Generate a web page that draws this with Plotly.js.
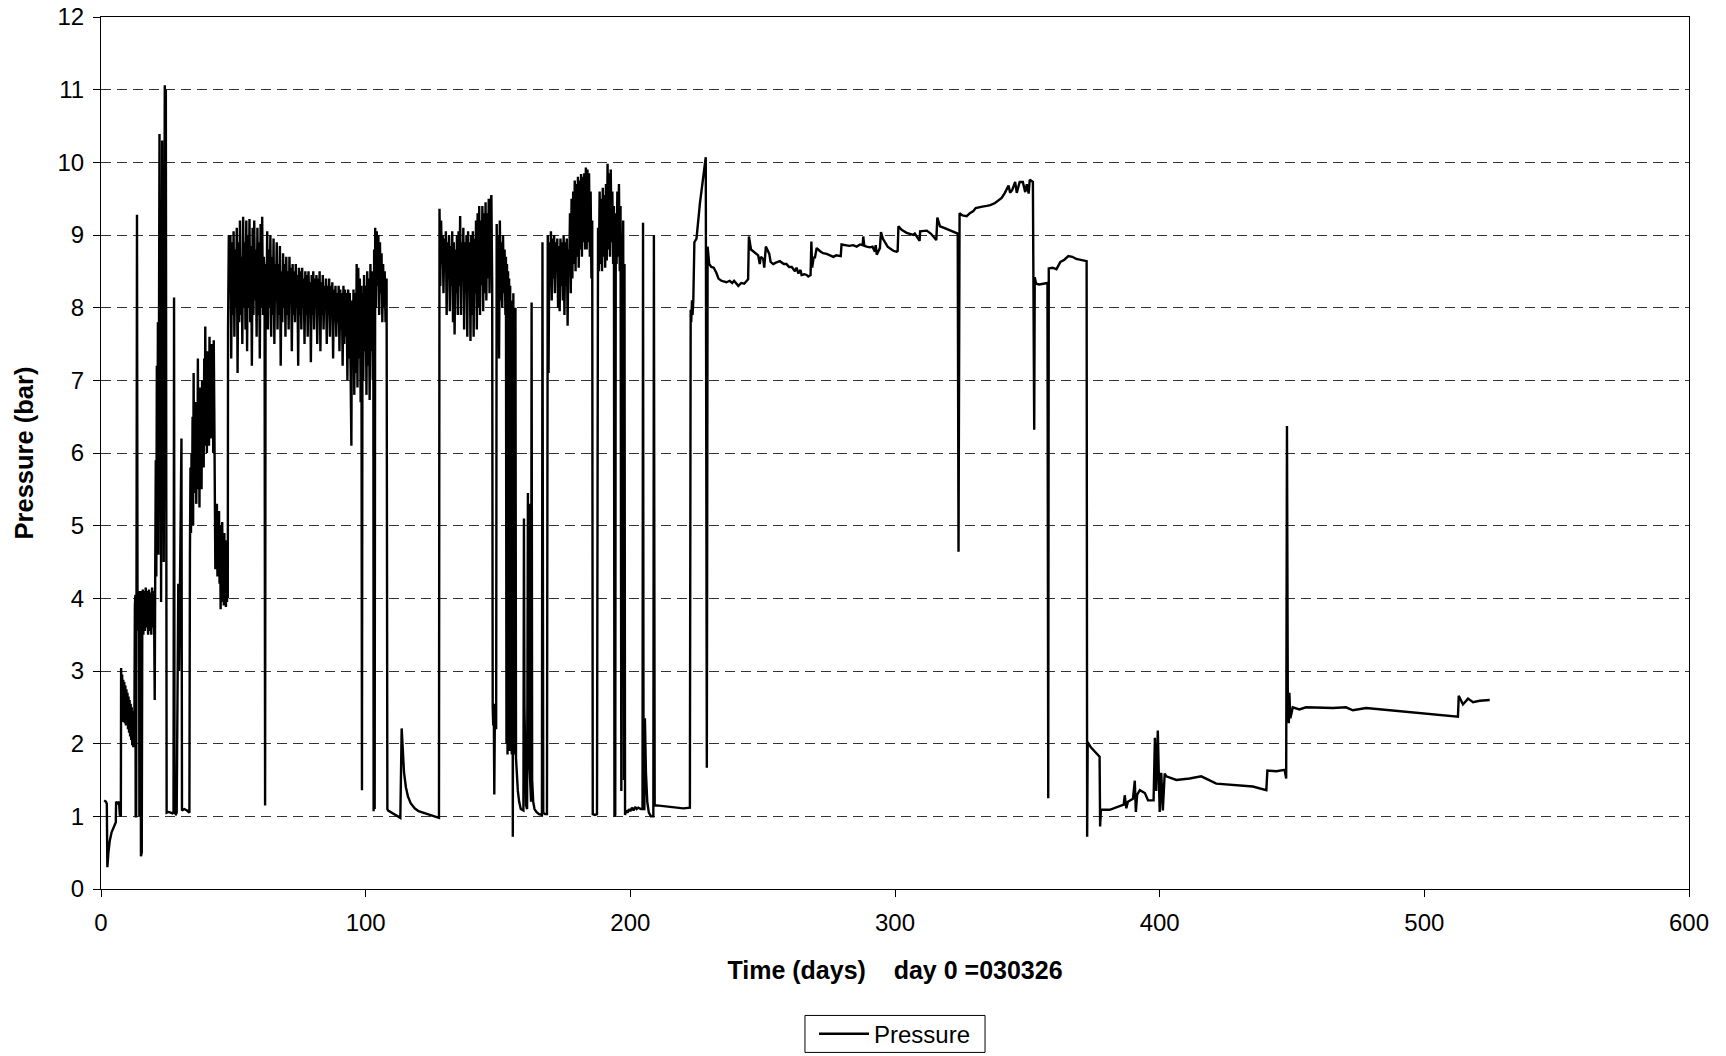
<!DOCTYPE html>
<html>
<head>
<meta charset="utf-8">
<script src="https://cdn.plot.ly/plotly-3.0.1.min.js"></script>
<style>html,body{margin:0;padding:0;background:#fff;}#chart{width:1726px;height:1056px;}</style>
</head>
<body>
<div id="chart"></div>
<script>
// [day, pressure (bar)], day 0 = 030326
const startupPhase = [
[1.2,1.22],[1.9,1.2],[2.2,1.17],[2.4,0.3],[2.8,0.5],[3.3,0.66],[4.0,0.78],[4.8,0.86],[5.6,0.92],[5.7,1.2],[6.2,1.18],[6.8,1.2],[7.1,1.02],[7.5,1.0],
[7.6,3.04],[7.8,2.5],[8.0,2.95],[8.2,2.3],[8.4,2.88],[8.6,2.35],[8.8,2.85],[9.0,2.28],[9.2,2.8],[9.4,2.25],[9.6,2.75],[9.8,2.3],[10.0,2.7],[10.2,2.2],[10.4,2.65],[10.6,2.15],[10.8,2.6],[11.0,2.1],[11.2,2.55],[11.4,2.05],[11.6,2.5],[11.8,1.98],[12.0,2.45],[12.2,1.95],[12.4,2.35],[12.6,2.2],[12.8,3.9],[13.0,4.05],[13.1,1.0],[13.3,1.0],[13.6,9.28],[13.8,3.9],[14.0,4.1],[14.2,3.55],[14.4,4.05],[14.5,1.0],[14.7,3.6],[14.9,4.1],[15.1,0.45],[15.4,0.5],[15.6,3.7],[15.8,4.12],[16.0,3.5],[16.3,4.1],[16.6,3.55],[16.9,4.15],[17.2,3.6],[17.5,4.1],[17.8,3.5],[18.1,4.12],[18.4,3.55],[18.7,4.08],[19.0,3.5],[19.3,4.15],[19.6,3.6],[19.9,4.1],[20.1,3.55],[20.3,2.6],
[20.5,4.5],[20.7,5.9],[20.9,4.3],[21.1,7.2],[21.3,5.0],[21.5,7.8],[21.7,4.6],[21.9,6.5],[22.1,10.39],[22.3,5.5],[22.5,9.0],[22.7,3.95],[22.9,8.0],[23.1,10.3],[23.3,6.2],[23.5,7.5],[23.7,4.5],[23.9,8.5],[24.1,11.06],[24.3,9.6],[24.5,11.0],[24.8,1.05],[25.5,1.06],[26.3,1.05],[27.0,1.04],[27.4,1.05],[27.6,8.14],[27.8,1.05],[28.3,1.03],[28.6,1.05],
[28.9,3.5],[29.2,4.2],[29.5,3.0],[29.8,4.5],[30.1,5.2],[30.4,6.2],[30.6,1.08],[31.5,1.1],[32.5,1.08],[33.4,1.05],
[33.6,4.6],[33.8,5.8],[34.0,4.9],[34.2,6.0],[34.4,5.2],[34.6,6.5],[34.8,5.0],[35.0,7.1],[35.2,5.45],[35.4,6.2],[35.6,5.6],[35.8,6.7],[36.0,5.3],[36.2,6.4],[36.4,5.5],[36.6,7.3],[36.8,5.7],[37.0,6.6],[37.2,5.25],[37.4,6.9],[37.6,5.9],[37.8,6.7],[38.0,5.5],[38.2,7.0],[38.4,6.0],[38.6,6.5],[38.8,5.8],[39.0,7.3],[39.2,6.1],[39.4,7.74],[39.6,6.2],[39.8,7.2],[40.0,6.0],[40.2,7.4],[40.4,6.3],[40.6,7.0],[40.8,6.1],[41.0,7.6],[41.2,6.4],[41.4,7.2],[41.6,6.2],[41.8,7.5],[42.0,6.5],[42.2,7.3],[42.4,6.0],[42.6,7.55],[42.8,6.6],
[43.0,5.3],[43.2,4.4],[43.4,5.2],[43.6,4.6],[43.8,5.3],[44.0,4.3],[44.2,5.1],[44.4,4.5],[44.6,5.2],[44.8,4.2],[45.0,5.0],[45.2,3.85],[45.4,4.9],[45.6,4.1],[45.8,5.05],[46.0,3.95],[46.2,4.85],[46.4,3.9],[46.6,4.9],[46.8,4.0],[47.0,4.8],[47.2,3.88],[47.4,4.7],[47.6,3.95],[47.8,4.6],[47.9,4.0],[48.0,7.7]
];
const plateauOne = [
[48.3,9.0],[48.6,8.2],[48.9,9.0],[49.2,7.3],[49.5,8.9],[49.8,7.9],[50.1,9.05],[50.4,7.6],[50.7,8.8],[51.0,8.0],[51.3,9.1],[51.6,7.1],[51.9,8.9],[52.2,7.8],[52.5,9.2],[52.8,7.9],[53.1,8.7],[53.4,7.5],[53.7,9.25],[54.0,8.0],[54.3,8.9],[54.6,7.7],[54.9,9.2],[55.2,7.4],[55.5,9.0],[55.8,8.0],[56.1,9.22],[56.4,7.8],[56.7,8.85],[57.0,7.2],[57.3,9.1],[57.6,7.9],[57.9,9.2],[58.2,8.1],[58.5,8.8],[58.8,7.6],[59.1,9.1],[59.4,7.9],[59.7,8.9],[60.0,7.3],[60.3,9.15],[60.6,8.0],[60.9,9.25],[61.2,7.9],[61.5,8.7],[61.8,8.4],[62.0,1.15],[62.2,8.6],
[62.5,7.9],[62.8,9.05],[63.1,7.7],[63.4,8.8],[63.7,8.0],[64.0,9.0],[64.3,7.6],[64.6,8.7],[64.9,7.9],[65.2,8.95],[65.5,7.5],[65.8,8.6],[66.1,8.1],[66.4,8.9],[66.7,7.7],[67.0,8.6],[67.3,7.9],[67.6,8.85],[67.9,7.2],[68.2,8.5],[68.5,7.8],[68.8,8.75],[69.1,8.0],[69.4,8.6],[69.7,7.6],[70.0,8.7],[70.3,7.9],[70.6,8.5],[70.9,7.7],[71.2,8.7],[71.5,8.1],[71.8,8.55],[72.1,7.4],[72.4,8.6],[72.7,7.9],[73.0,8.5],[73.3,7.8],[73.6,8.6],[73.9,8.0],[74.2,8.45],[74.5,7.2],[74.8,8.55],[75.1,7.9],[75.4,8.5],[75.7,7.7],[76.0,8.55],[76.3,8.0],[76.6,8.4],[76.9,7.5],[77.2,8.5],[77.5,7.9],[77.8,8.45],[78.1,7.6],[78.4,8.5],[78.7,8.0],[79.0,8.35],[79.3,7.25],[79.6,8.45],[79.9,7.9],[80.2,8.5],[80.5,7.7],[80.8,8.4],[81.1,8.0],[81.4,8.45],[81.7,7.5],[82.0,8.4],[82.3,7.9],[82.6,8.5],[82.9,7.4],[83.2,8.35],[83.5,7.9],[83.8,8.45],[84.1,7.7],[84.4,8.3],[84.7,8.0],[85.0,8.4],[85.3,7.5],[85.6,8.3],[85.9,7.9],[86.2,8.4],[86.5,7.6],[86.8,8.3],[87.1,7.9],[87.4,8.35],[87.7,7.3],[88.0,8.25],[88.3,7.8],[88.6,8.3],[88.9,7.6],[89.2,8.2],[89.5,7.8],[89.8,8.3],[90.1,7.4],[90.4,8.25],[90.7,7.7],[91.0,8.2],[91.3,7.2],[91.6,8.3],[91.9,7.5],[92.2,8.25],[92.5,7.6],[92.8,8.2],[93.1,7.0],[93.4,8.25],[93.7,7.3],[94.0,8.2],[94.3,6.9],[94.6,6.1],[94.8,8.1],[95.1,7.2],[95.4,8.25],[95.7,6.8],[96.0,8.2],[96.3,7.1],[96.6,8.6],[96.9,6.9],[97.2,8.55],[97.5,7.3],[97.8,8.4],[98.1,6.7],[98.4,8.3],[98.6,1.36],[98.8,8.2],[99.1,7.0],[99.4,8.45],[99.7,7.4],[100.0,8.3],[100.3,6.8],[100.6,8.5],[100.9,7.2],[101.2,8.4],[101.5,6.73],[101.8,8.6],[102.1,7.4],[102.4,8.5],[102.7,7.0],[102.9,8.3],[103.0,1.07],[103.2,8.8],[103.4,1.1],[103.6,9.1],[103.9,8.0],[104.2,9.05],[104.5,8.3],[104.8,9.0],[105.1,7.9],[105.4,8.9],[105.7,8.2],[106.0,8.75],[106.3,7.8],[106.6,8.6],[106.9,8.0],[107.2,8.5],[107.5,7.8],[107.9,8.4],[108.2,1.1]
];
const recoveryOne = [
[108.5,1.08],[110.0,1.05],[112.0,1.0],[113.1,0.98],[113.6,2.21],[114.0,1.9],[114.5,1.6],[115.2,1.4],[116.0,1.27],[117.0,1.18],[118.5,1.11],[120.0,1.07],[122.0,1.05],[124.0,1.03],[126.0,1.0],[127.7,0.98]
];
const plateauTwo = [
[127.9,9.36],[128.2,8.3],[128.5,9.2],[128.8,8.6],[129.1,9.0],[129.4,8.2],[129.7,8.95],[130.0,8.5],[130.3,9.05],[130.6,7.9],[130.9,8.9],[131.2,8.4],[131.5,9.0],[131.8,7.95],[132.1,8.85],[132.4,8.3],[132.7,9.05],[133.0,7.8],[133.3,8.9],[133.6,7.63],[133.9,8.8],[134.2,8.2],[134.5,9.0],[134.8,7.9],[135.1,9.05],[135.4,8.3],[135.7,9.26],[136.0,7.9],[136.3,8.9],[136.6,8.4],[136.9,9.1],[137.2,7.7],[137.5,8.9],[137.8,8.2],[138.1,9.0],[138.4,7.6],[138.7,9.05],[139.0,8.3],[139.3,8.9],[139.6,7.54],[139.9,9.0],[140.2,7.9],[140.5,9.05],[140.8,7.6],[141.1,8.95],[141.4,8.2],[141.7,9.2],[142.0,7.7],[142.3,9.3],[142.6,8.0],[142.9,9.4],[143.2,7.9],[143.5,9.2],[143.8,8.3],[144.1,9.4],[144.4,7.95],[144.7,9.3],[145.0,8.2],[145.3,9.45],[145.6,8.1],[145.9,9.3],[146.2,8.4],[146.5,9.5],[146.8,8.2],[147.1,9.4],[147.5,9.55],[147.8,8.3],
[148.0,2.5],[148.2,2.25],[148.4,2.55],[148.6,1.3],[148.8,2.3],[149.0,2.5],[149.3,2.2],[149.5,9.15],[149.8,8.0],[150.1,9.0],[150.4,7.3],[150.7,9.2],[151.0,8.1],[151.3,8.9],[151.6,8.0],[151.9,9.0],[152.2,8.2],[152.5,8.8],[152.8,7.9],
[153.0,8.7],[153.2,2.0],[153.4,8.6],[153.6,1.85],[153.8,8.5],[154.0,2.2],[154.2,8.4],[154.4,1.9],[154.6,8.3],[154.8,2.3],[155.0,8.0],[155.2,1.85],[155.4,8.1],[155.6,0.72],[155.8,8.2],[156.0,1.9],[156.2,7.9],[156.4,1.85],[156.6,8.0],[156.8,1.8],
[157.0,1.6],[157.5,1.35],[158.0,1.2],[158.6,1.1],[159.6,1.08],[159.8,5.1],[160.0,2.5],[160.3,1.4],[160.6,1.15],[161.0,1.1],[161.3,5.45],[161.5,2.0],[161.7,5.3],[161.9,1.7],[162.2,1.35],[162.5,1.2],[162.7,8.07],[162.9,1.5],[163.3,1.2],[163.8,1.1],[164.5,1.06],[165.5,1.03],[166.6,1.02],[166.8,8.9],[167.1,1.05],[167.8,1.03],[168.5,1.03]
];
const plateauThree = [
[168.8,9.0],[169.1,7.1],[169.4,8.9],[169.7,8.3],[170.0,9.05],[170.3,8.1],[170.6,8.95],[170.9,8.4],[171.2,9.0],[171.5,8.2],[171.8,8.9],[172.1,8.5],[172.4,8.95],[172.7,8.0],[173.0,8.85],[173.3,7.95],[173.6,8.95],[173.9,8.3],[174.2,8.9],[174.5,8.1],[174.8,9.0],[175.1,7.9],[175.4,8.9],[175.7,8.3],[176.0,8.95],[176.3,7.75],[176.6,8.8],[176.9,8.5],[177.2,9.3],[177.5,8.2],[177.8,9.5],[178.1,8.4],[178.4,9.6],[178.7,8.6],[179.0,9.75],[179.3,8.5],[179.6,9.7],[179.9,8.7],[180.2,9.8],[180.5,8.55],[180.8,9.75],[181.1,8.8],[181.4,9.84],[181.7,8.7],[182.0,9.8],[182.3,8.9],[182.6,9.85],[182.9,8.8],[183.2,9.93],[183.5,8.8],[183.8,9.9],[184.1,8.9],[184.4,9.85],[184.7,8.7],[185.0,9.6],[185.3,8.4],[185.6,9.2],[185.8,1.03],[186.6,1.02],[187.4,1.03],
[187.8,9.1],[188.1,8.5],[188.4,9.6],[188.7,8.6],[189.0,9.5],[189.3,8.5],[189.6,9.65],[189.9,8.7],[190.2,9.55],[190.5,8.55],[190.8,9.7],[191.1,8.65],[191.4,9.98],[191.7,8.8],[192.0,9.85],[192.3,8.7],[192.6,9.9],[192.9,8.9],[193.2,9.6],[193.5,8.6],[193.8,9.4],[194.0,1.0],[194.3,1.02],[194.5,9.3],[194.8,8.6],[195.1,9.6],[195.4,8.7],[195.7,9.7],[196.0,8.5],[196.3,9.4],[196.6,1.35],[196.8,9.0],[197.0,8.3],[197.3,9.2],[197.6,1.5],[197.8,8.6],[198.0,1.02],
[198.4,1.08],[199.0,1.05],[199.5,1.1],[200.0,1.07],[200.6,1.12],[201.2,1.08],[201.8,1.13],[202.4,1.1],[203.0,1.12],[204.0,1.1],[204.6,1.1],[204.8,9.17],[205.0,1.1],[205.3,1.1],[205.5,2.35],[205.9,1.6],[206.4,1.2],[207.0,1.05],[207.8,1.0],[208.7,1.0],[208.9,9.0],[209.2,1.15],[210.0,1.15],[212.0,1.14],[214.0,1.13],[216.0,1.12],[218.0,1.12],[220.0,1.11],[222.5,1.12]
];
const steadyRun = [
[222.8,7.97],[223.0,7.8],[223.3,8.1],[223.5,7.9],[223.8,8.1],[224.2,8.9],[225.0,8.95],[226.3,9.44],[228.5,10.07],[228.9,1.67],[229.2,8.84],[229.8,8.6],[230.6,8.56],[231.5,8.55],[232.5,8.48],[233.3,8.4],[234.4,8.37],[235.5,8.36],[236.3,8.35],[237.5,8.37],[238.5,8.34],[239.2,8.37],[240.0,8.33],[240.8,8.3],[241.9,8.34],[243.0,8.33],[244.5,8.39],[244.8,8.98],[245.6,8.8],[246.4,8.78],[247.5,8.75],[248.3,8.72],[248.9,8.6],[249.3,8.7],[250.2,8.67],[250.6,8.55],[251.2,8.84],[251.8,8.78],[252.5,8.74],[253.0,8.63],[254.0,8.6],[255.0,8.62],[256.5,8.64],[258.0,8.6],[259.0,8.6],[260.0,8.56],[261.0,8.56],[262.2,8.5],[262.8,8.55],[263.5,8.47],[264.3,8.52],[264.7,8.45],[265.8,8.46],[266.6,8.45],[267.2,8.43],[268.1,8.45],[268.4,8.91],[268.7,8.55],[269.3,8.7],[269.7,8.68],[270.4,8.82],[271.6,8.78],[272.8,8.75],[274.2,8.74],[275.4,8.72],[276.7,8.7],[277.8,8.72],[279.5,8.71],[279.8,8.87],[281.2,8.86],[282.7,8.85],[284.2,8.86],[285.5,8.84],[286.8,8.87],[287.8,8.86],[288.0,8.98],[288.4,8.85],[289.3,8.84],[290.5,8.83],[291.5,8.84],[292.4,8.77],[292.7,8.86],[293.1,8.73],[294.3,8.82],[294.7,9.04],[295.4,8.95],[296.2,8.9],[297.2,8.84],[298.7,8.8],[299.5,8.78],[300.6,8.77],[301.0,8.78],[301.3,9.12],[302.5,9.07],[304.4,9.03],[305.5,9.02],[306.9,9.0],[307.5,9.02],[308.8,8.94],[309.3,8.92],[309.5,9.05],[311.0,9.05],[312.0,9.06],[313.5,9.02],[315.2,8.95],[315.6,8.93],[316.0,9.24],[317.0,9.12],[318.3,9.1],[319.6,9.08],[321.0,9.06],[322.1,9.05],[323.0,9.03],[323.7,9.02],[324.0,4.64],[324.4,9.3],[325.5,9.27],[327.1,9.26],[328.3,9.3],[329.6,9.33],[330.5,9.37],[331.5,9.38],[333.0,9.39],[334.7,9.4],[336.0,9.41],[337.8,9.44],[339.0,9.47],[340.3,9.51],[341.5,9.58],[342.9,9.68],[343.5,9.58],[344.3,9.62],[345.4,9.73],[346.0,9.58],[347.1,9.73],[348.3,9.73],[349.2,9.59],[349.8,9.7],[350.5,9.57],[350.9,9.76],[352.1,9.73],
[352.3,7.9],[352.6,6.32],[352.8,8.42],[353.3,8.33],[354.5,8.32],[356.0,8.33],[357.6,8.34],[357.9,1.25],[358.1,8.54],[359.5,8.55],[361.0,8.53],[362.5,8.63],[364.0,8.66],[365.5,8.71],[367.0,8.7],[368.5,8.67],[370.0,8.66],[372.4,8.64]
];
const lowPhase = [
[372.6,0.72],[372.8,2.02],[374.0,1.95],[375.7,1.88],[377.3,1.82],[377.5,0.86],[377.8,1.09],[381.1,1.09],[384.9,1.14],[386.4,1.16],[386.8,1.29],[387.4,1.11],[388.0,1.2],[389.9,1.24],[390.6,1.49],[391.0,1.06],[391.5,1.3],[392.5,1.36],[394.4,1.32],[395.6,1.22],[397.7,1.22],[398.2,2.08],[398.7,1.35],[399.3,2.18],[400.0,1.06],[400.6,1.6],[401.2,1.08],[401.9,1.59],[402.5,1.55],[406.3,1.5],[411.3,1.52],[415.7,1.55],[421.4,1.45],[427.7,1.43],[435.2,1.41],[440.3,1.36],[440.7,1.63],[444.1,1.62],[447.2,1.64],[447.8,1.52],[448.1,6.37],[448.4,2.74],[448.8,2.28],[449.0,2.7],[449.4,2.35],[450.3,2.5],[452.8,2.47],[455.3,2.5],[460.4,2.49],[465.4,2.49],[470.4,2.5],[473.0,2.46],[478.0,2.49],[484.3,2.47],[490.6,2.44],[498.2,2.42],[507.0,2.39],[512.7,2.37],[513.0,2.66],[514.6,2.54],[516.5,2.62],[518.4,2.57],[520.9,2.59],[524.7,2.6]
];

const xTickValues = [0,100,200,300,400,500,600];
const yTickValues = [0,1,2,3,4,5,6,7,8,9,10,11,12];
const seriesName = 'Pressure';
const xTitle = 'Time (days)\u00a0\u00a0\u00a0 day 0 =030326';
const yTitle = 'Pressure (bar)';

const allPoints = [].concat(startupPhase, plateauOne, recoveryOne, plateauTwo, plateauThree, steadyRun, lowPhase);
const days = allPoints.map(p => p[0]);
const pressure = allPoints.map(p => p[1]);

const FONT = 'Liberation Sans, Arial, sans-serif';

const trace = {
  x: days, y: pressure, type: 'scatter', mode: 'lines', name: seriesName,
  line: {color: '#000000', width: 2.4}
};

const layout = {
  width: 1726, height: 1056,
  margin: {l: 101, r: 37, t: 17, b: 167, autoexpand: false},
  paper_bgcolor: '#ffffff', plot_bgcolor: '#ffffff',
  font: {family: FONT, color: '#000000', size: 24},
  showlegend: true,
  legend: {
    x: 0.5, xanchor: 'center', y: -0.1665, yanchor: 'middle', orientation: 'h',
    borderwidth: 0, bgcolor: 'rgba(0,0,0,0)',
    itemwidth: 50,
    font: {family: FONT, size: 24, color: '#000000'}
  },
  shapes: [{
    type: 'rect', xref: 'paper', yref: 'paper',
    x0: 0.4433, x1: 0.5567, y0: -0.1874, y1: -0.1450,
    line: {color: '#000000', width: 1}, fillcolor: 'rgba(0,0,0,0)', layer: 'below'
  }],
  xaxis: {
    range: [0, 600], tickmode: 'array', tickvals: xTickValues, automargin: false,
    ticks: 'outside', ticklen: 7, tickcolor: '#000000', tickwidth: 1, ticklabelstandoff: 5,
    showline: true, linecolor: '#000000', linewidth: 1, mirror: true,
    showgrid: false, zeroline: false,
    tickfont: {family: FONT, size: 24, color: '#000000'},
    title: {text: '<b>' + xTitle + '</b>', font: {family: FONT, size: 25, color: '#000000'}, standoff: 26}
  },
  yaxis: {
    range: [0, 12], tickmode: 'array', tickvals: yTickValues, automargin: false,
    ticks: 'outside', ticklen: 7, tickcolor: '#000000', tickwidth: 1, ticklabelstandoff: 4,
    showline: true, linecolor: '#000000', linewidth: 1, mirror: true,
    showgrid: true, gridcolor: '#333333', gridwidth: 1, griddash: '10px,6px',
    zeroline: false,
    tickfont: {family: FONT, size: 24, color: '#000000'},
    title: {text: '<b>' + yTitle + '</b>', font: {family: FONT, size: 25.5, color: '#000000'}, standoff: 16}
  }
};

Plotly.newPlot('chart', [trace], layout, {displayModeBar: false, staticPlot: true});
</script>
</body>
</html>
